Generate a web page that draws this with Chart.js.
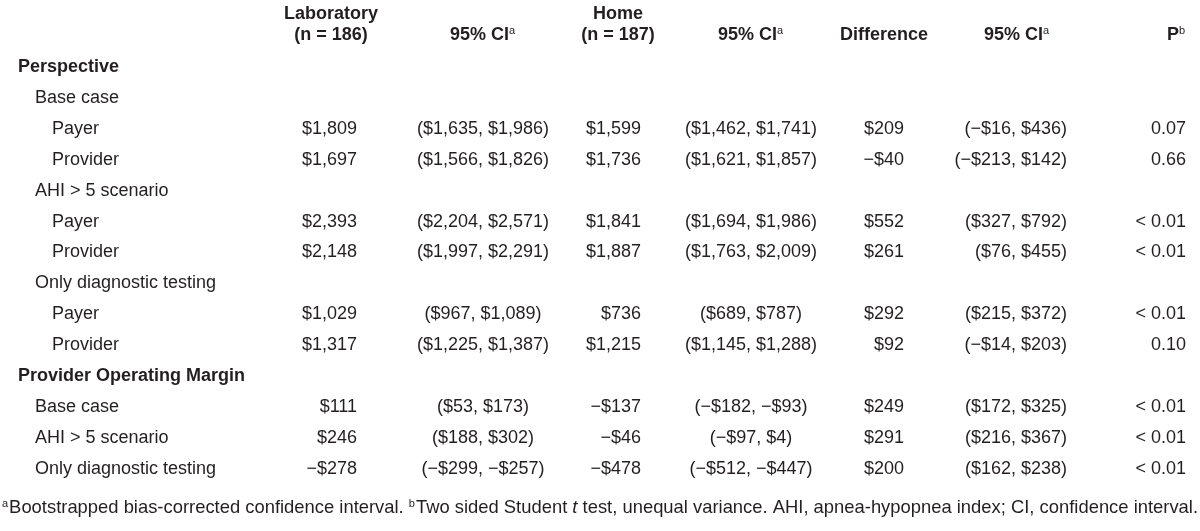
<!DOCTYPE html>
<html>
<head>
<meta charset="utf-8">
<script src="https://cdn.jsdelivr.net/npm/chart.js"></script>
<style>
  html, body { margin: 0; padding: 0; background: #fff; }
  canvas { display: block; }
</style>
</head>
<body>
<canvas id="tableChart" width="1200" height="531"></canvas>
<script>
const rowLabels = [
  'Perspective', 'Base case', 'Payer', 'Provider',
  'AHI > 5 scenario', 'Payer', 'Provider',
  'Only diagnostic testing', 'Payer', 'Provider',
  'Provider Operating Margin', 'Base case', 'AHI > 5 scenario', 'Only diagnostic testing'
];
const rowLevels = [0, 1, 2, 2, 1, 2, 2, 1, 2, 2, 0, 1, 1, 1];

const labCost  = [null, null, 1809, 1697, null, 2393, 2148, null, 1029, 1317, null, 111, 246, -278];
const labLow   = [null, null, 1635, 1566, null, 2204, 1997, null, 967, 1225, null, 53, 188, -299];
const labHigh  = [null, null, 1986, 1826, null, 2571, 2291, null, 1089, 1387, null, 173, 302, -257];
const homeCost = [null, null, 1599, 1736, null, 1841, 1887, null, 736, 1215, null, -137, -46, -478];
const homeLow  = [null, null, 1462, 1621, null, 1694, 1763, null, 689, 1145, null, -182, -97, -512];
const homeHigh = [null, null, 1741, 1857, null, 1986, 2009, null, 787, 1288, null, -93, 4, -447];
const diffCost = [null, null, 209, -40, null, 552, 261, null, 292, 92, null, 249, 291, 200];
const diffLow  = [null, null, -16, -213, null, 327, 76, null, 215, -14, null, 172, 216, 162];
const diffHigh = [null, null, 436, 142, null, 792, 455, null, 372, 203, null, 325, 367, 238];
const pValues  = ['', '', '0.07', '0.66', '', '< 0.01', '< 0.01', '', '< 0.01', '0.10', '', '< 0.01', '< 0.01', '< 0.01'];

const headerTop    = ['Laboratory', '', 'Home', '', '', '', ''];
const headerBottom = ['(n = 186)', '95% CI', '(n = 187)', '95% CI', 'Difference', '95% CI', 'P'];
const headerSup    = ['', 'a', '', 'a', '', 'a', 'b'];

// ---- layout ----
const FONT = "'Liberation Sans', Arial, sans-serif";
const TEXT = '#231f20';
const ROW_H = 30.92;
const Y_MIN = -67 / ROW_H;
const Y_MAX = Y_MIN + 531 / ROW_H;
const indentX = [18, 35, 52];
const cols = [
  { x: 357, align: 'right' },
  { x: 483, align: 'center' },
  { x: 641, align: 'right' },
  { x: 751, align: 'center' },
  { x: 904, align: 'right' },
  { x: 1067, align: 'right' },
  { x: 1186, align: 'right' }
];
const headerX = [331, 483, 618, 751, 884, 1017, 1186];

const money = v => (v < 0 ? '\u2212' : '') + '$' + Math.abs(v).toLocaleString('en-US');
const ci = (lo, hi) => '(' + money(lo) + ', ' + money(hi) + ')';

const columnTexts = [
  labCost.map(v => v === null ? '' : money(v)),
  labLow.map((v, i) => v === null ? '' : ci(v, labHigh[i])),
  homeCost.map(v => v === null ? '' : money(v)),
  homeLow.map((v, i) => v === null ? '' : ci(v, homeHigh[i])),
  diffCost.map(v => v === null ? '' : money(v)),
  diffLow.map((v, i) => v === null ? '' : ci(v, diffHigh[i])),
  pValues
];

const datasets = [{
  label: 'rows',
  align: 'left',
  data: rowLabels.map((t, i) => ({ x: indentX[rowLevels[i]], y: i, text: t, bold: rowLevels[i] === 0 })),
  pointRadius: 0
}];
columnTexts.forEach((texts, c) => {
  datasets.push({
    label: 'col' + c,
    align: cols[c].align,
    data: texts.map((t, i) => ({ x: cols[c].x, y: i, text: t })).filter(d => d.text !== ''),
    pointRadius: 0
  });
});

function pieceFont(p, size) {
  if (p.sup) return '11px ' + FONT;
  return (p.bold ? 'bold ' : '') + (p.italic ? 'italic ' : '') + size + 'px ' + FONT;
}
// draws a run of pieces (plain / superscript / italic) starting at x
function drawRun(ctx, pieces, x, y, size) {
  pieces.forEach(p => {
    ctx.font = pieceFont(p, size);
    ctx.fillText(p.t, x, p.sup ? y - 4 : y);
    x += ctx.measureText(p.t).width + (p.sup ? 1 : 0);
  });
  return x;
}
function runWidth(ctx, pieces, size) {
  let w = 0;
  pieces.forEach(p => {
    ctx.font = pieceFont(p, size);
    w += ctx.measureText(p.t).width + (p.sup ? 1 : 0);
  });
  return w;
}

const tablePlugin = {
  id: 'tableText',
  afterDatasetsDraw(chart) {
    const ctx = chart.ctx;
    const xs = chart.scales.x, ys = chart.scales.y;
    ctx.save();
    ctx.fillStyle = TEXT;
    ctx.textBaseline = 'middle';

    // body cells
    chart.data.datasets.forEach((ds, i) => {
      const meta = chart.getDatasetMeta(i);
      meta.data.forEach((el, j) => {
        const d = ds.data[j];
        ctx.font = (d.bold ? 'bold ' : '') + '18px ' + FONT;
        ctx.textAlign = ds.align;
        ctx.fillText(d.text, el.x, el.y);
      });
    });

    // header
    ctx.textAlign = 'left';
    const y1 = ys.getPixelForValue(-1.72), y2 = ys.getPixelForValue(-1.04);
    headerBottom.forEach((t, c) => {
      const cx = xs.getPixelForValue(headerX[c]);
      if (headerTop[c]) {
        const p = [{ t: headerTop[c], bold: true }];
        drawRun(ctx, p, cx - runWidth(ctx, p, 18) / 2, y1, 18);
      }
      const p = [{ t: t, bold: true }];
      if (headerSup[c]) p.push({ t: headerSup[c], sup: true });
      const w = runWidth(ctx, p, 18);
      const startX = c === 6 ? cx - w : cx - w / 2;
      drawRun(ctx, p, startX, y2, 18);
    });

    // footnote
    const foot = [
      { t: 'a', sup: true },
      { t: 'Bootstrapped bias-corrected confidence interval. ' },
      { t: 'b', sup: true },
      { t: 'Two sided Student ' },
      { t: 't', italic: true },
      { t: ' test, unequal variance. AHI, apnea-hypopnea index; CI, confidence interval.' }
    ];
    drawRun(ctx, foot, xs.getPixelForValue(2), ys.getPixelForValue(14.25), 18.4);
    ctx.restore();
  }
};

new Chart(document.getElementById('tableChart').getContext('2d'), {
  type: 'scatter',
  data: { datasets: datasets },
  options: {
    responsive: false,
    animation: false,
    devicePixelRatio: 1,
    layout: { padding: 0 },
    plugins: { legend: { display: false }, tooltip: { enabled: false } },
    scales: {
      x: { type: 'linear', display: false, min: 0, max: 1200 },
      y: { type: 'linear', display: false, min: Y_MIN, max: Y_MAX, reverse: true }
    }
  },
  plugins: [tablePlugin]
});
</script>
</body>
</html>
